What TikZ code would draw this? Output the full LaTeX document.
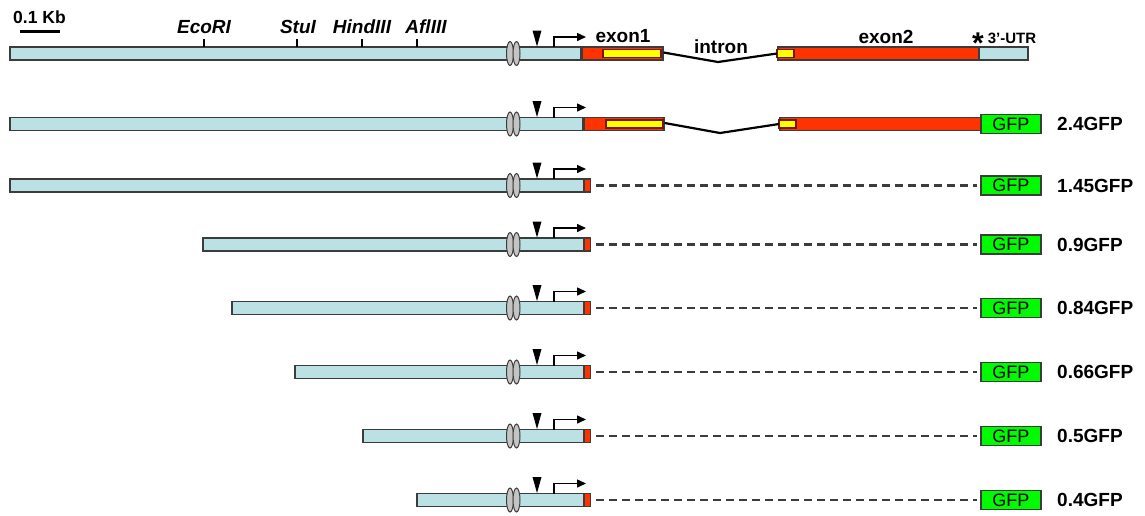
\documentclass[tikz,border=0pt]{standalone}
\usepackage{fontspec}
\setmainfont[Ligatures=NoCommon]{Liberation Sans}
\usetikzlibrary{arrows.meta}

\definecolor{seqblue}{RGB}{187,225,228}
\definecolor{exonred}{RGB}{255,51,0}
\definecolor{orfyellow}{RGB}{255,255,0}
\definecolor{orfedge}{RGB}{110,25,0}
\definecolor{gfpgreen}{RGB}{0,250,0}
\definecolor{edgegray}{RGB}{60,60,60}
\definecolor{ovalgray}{RGB}{196,196,196}

\tikzset{
  seqbar/.style={draw=edgegray, line width=1.6pt, fill=seqblue},
  exonbox/.style={draw=edgegray, line width=1.6pt, fill=exonred, inner sep=0pt,
    minimum height=13pt, anchor=west},
  orfbox/.style={draw=orfedge, line width=1.2pt, fill=orfyellow},
  stubbox/.style={draw=edgegray, line width=1.2pt, fill=exonred, inner sep=0pt,
    minimum width=6pt, minimum height=13pt, anchor=west},
  gfpbox/.style={draw=edgegray, line width=1.6pt, fill=gfpgreen, inner sep=0pt,
    minimum width=60pt, minimum height=19pt, anchor=west,
    font=\fontsize{18}{18}\selectfont},
  enhancer/.style={draw=edgegray, line width=1pt, fill=ovalgray},
  intronline/.style={line width=2.2pt, black},
  deletion/.style={line width=2.4pt, edgegray, dash pattern=on 8pt off 5pt},
  tss/.style={line width=1.5pt, black, -{Triangle[length=9pt,width=8pt]}},
  site/.style={line width=2.2pt, black},
  sitelabel/.style={anchor=base, inner sep=0pt,
    font=\fontsize{19}{19}\selectfont\bfseries\itshape},
  partlabel/.style={anchor=base, inner sep=0pt,
    font=\fontsize{19}{19}\selectfont\bfseries},
  constructlabel/.style={anchor=west, inner sep=0pt,
    font=\fontsize{19}{19}\selectfont\bfseries},
}

% enhancer pair, nuclease site and transcription start for a row centred at #1
\newcommand\promoterparts[1]{%
  \draw[enhancer] (510,#1) ellipse [x radius=3.5, y radius=12];
  \draw[enhancer] (516.5,#1) ellipse [x radius=3.5, y radius=12];
  \fill[black] (532.5,#1-23) -- (541.5,#1-23) -- (537,#1-7) -- cycle;
  \draw[tss] (554,#1-6.5) -- (554,#1-16.5) -- (586,#1-16.5);
}

\begin{document}
\begin{tikzpicture}[x=1pt, y=-1pt]
\useasboundingbox (0,0) rectangle (1145,515);

% scale bar
\node[partlabel, anchor=base west, font=\fontsize{17.5}{17.5}\selectfont\bfseries]
  (scale) at (13,23) {0.1 Kb};
\draw[line width=3pt] (20,31) -- (60,31);

% ---------- genomic locus ----------
\draw[seqbar] (10,47) rectangle (581,60);
\node[exonbox, minimum width=81pt] (ex1) at (581,53.5) {};
\draw[orfbox] (603,49.5) rectangle (661,57.5);
\node[exonbox, minimum width=201pt] (ex2) at (777,53.5) {};
\draw[orfbox] (777,49.5) rectangle (794,57.5);
\node[seqbar, inner sep=0pt, minimum width=49pt, minimum height=13pt, anchor=west]
  (utr) at (978,53.5) {};
\coordinate (in0) at (718,62);
\draw[intronline] ([yshift=1pt]ex1.east) -- (in0) -- (ex2.west);
\promoterparts{53.5}

% restriction sites
\foreach \x/\lx/\name in {204/204/EcoRI, 297/298/StuI, 362/362/HindIII, 417/426/AflIII}{
  \draw[site] (\x,39) -- (\x,47);
  \node[sitelabel] at (\lx,33) {\name};
}

% feature labels
\node[partlabel] (lex1) at (623,42.5) {exon1};
\node[partlabel] (lint) at (721,53) {intron};
\node[partlabel] (lex2) at (886,43) {exon2};
\node[anchor=north, inner sep=0pt, font=\fontsize{30}{30}\selectfont\bfseries]
  (stop) at (978,33) {*};
\node[anchor=base, inner sep=0pt, font=\fontsize{15}{15}\selectfont\bfseries]
  (lutr) at (1012,43) {3’-UTR};

% ---------- full-length reporter ----------
\draw[seqbar] (10,117.5) rectangle (583,130.5);
\node[exonbox, minimum width=80pt] (fx1) at (583,124) {};
\draw[orfbox] (606,120) rectangle (663,128);
\node[exonbox, minimum width=201pt] (fx2) at (779,124) {};
\draw[orfbox] (779,120) rectangle (796,128);
\node[gfpbox] (g1) at (980,124) {GFP};
\coordinate (in1) at (720,133);
\draw[intronline] ([yshift=1pt]fx1.east) -- (in1) -- (fx2.west);
\promoterparts{124}
\node[constructlabel] (l1) at (1057,124) {2.4GFP};

% ---------- promoter deletion reporters ----------
\foreach \i/\l/\y/\lab in {2/10/185.5/1.45GFP, 3/203/244.5/0.9GFP,
    4/232/308/0.84GFP, 5/295/372/0.66GFP, 6/363/436/0.5GFP, 7/417/500/0.4GFP}{
  \draw[seqbar] (\l,\y-6.5) rectangle (584,\y+6.5);
  \node[stubbox] (s\i) at (584,\y) {};
  \node[gfpbox] (g\i) at (980,\y) {GFP};
  \draw[deletion] ([xshift=5pt]s\i.east) -- ([xshift=-3pt]g\i.west);
  \promoterparts{\y}
  \node[constructlabel] (l\i) at (1057,\y) {\lab};
}
\end{tikzpicture}
\end{document}
